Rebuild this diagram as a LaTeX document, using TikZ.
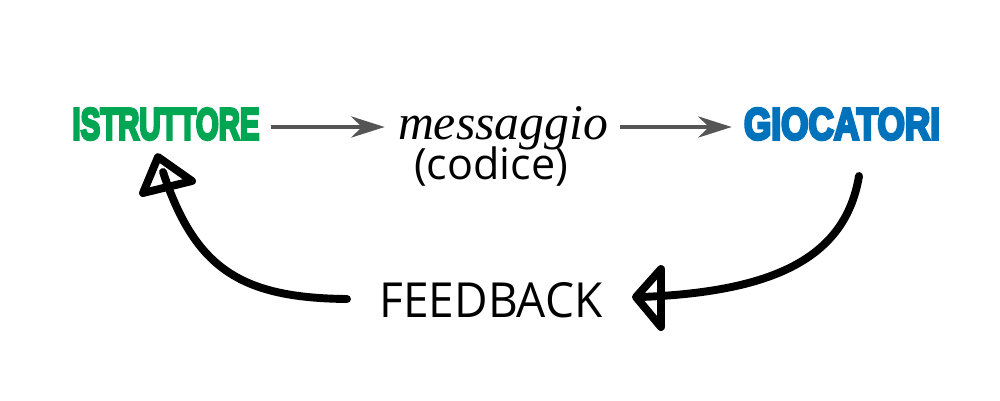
\documentclass[tikz,border=0pt]{standalone}
\usepackage{fontspec}
\usepackage{graphicx}
\setmainfont{Liberation Serif}
\newfontfamily\headfont{Liberation Sans}
\newfontfamily\codfont{Open Sans}
\newcommand\heavytext[2]{\special{pdf:literal direct #1 w 2 Tr}#2\special{pdf:literal direct 0 Tr}}
\usetikzlibrary{arrows.meta}
\definecolor{istgreen}{RGB}{0,166,81}
\definecolor{gioblue}{RGB}{0,114,188}
\definecolor{arrgray}{RGB}{85,85,85}
\begin{document}
\begin{tikzpicture}[x=0.02cm,y=-0.02cm,
  title/.style={inner sep=0pt, font=\headfont\bfseries},
  plain/.style={inner sep=0pt},
  flow/.style={draw=arrgray, line width=2.2pt, -{Stealth[length=19pt,width=12pt,inset=6pt]}},
  loopline/.style={line width=4.5pt, line cap=round, line join=round},
]
\useasboundingbox (0,0) rectangle (1000,400);
\node[title, text=istgreen] (ist) at (166,124) {\resizebox{3.74cm}{0.62cm}{\heavytext{0.7}{ISTRUTTORE}}};
\node[title, text=gioblue] (gio) at (842,124) {\resizebox{3.92cm}{0.62cm}{\heavytext{0.7}{GIOCATORI}}};
\node[plain, anchor=base] (msg) at (503,139) {\resizebox{4.2cm}{!}{\itshape messaggio}};
\node[plain] (cod) at (491,167) {\resizebox{3.08cm}{!}{\codfont (codice)}};
\node[plain] (fb) at (491,300) {\resizebox{4.46cm}{0.70cm}{\codfont FEEDBACK}};
\draw[flow, shorten <=0.22cm, shorten >=0.26cm] ([yshift=-0.06cm]ist.east) -- ([yshift=-0.06cm]ist.east -| msg.west);
\draw[flow, shorten <=0.24cm, shorten >=0.24cm] ([yshift=-0.06cm]ist.east -| msg.east) -- ([yshift=-0.06cm]ist.east -| gio.west);
% hand-drawn feedback arrows
\coordinate (rs) at (859,176);
\coordinate (rt) at (641,297);
\coordinate (ls) at (347,299);
\coordinate (lt) at (163,172);
\draw[loopline] (rs) .. controls (845,260) and (770,292) .. (rt);
\draw[loopline] (661,269) -- (636,297) -- (661,327) -- cycle;
\draw[loopline] (ls) .. controls (240,298) and (195,268) .. (lt);
\draw[loopline] (158,157) -- (143,193) -- (192,181) -- cycle;
\end{tikzpicture}
\end{document}
